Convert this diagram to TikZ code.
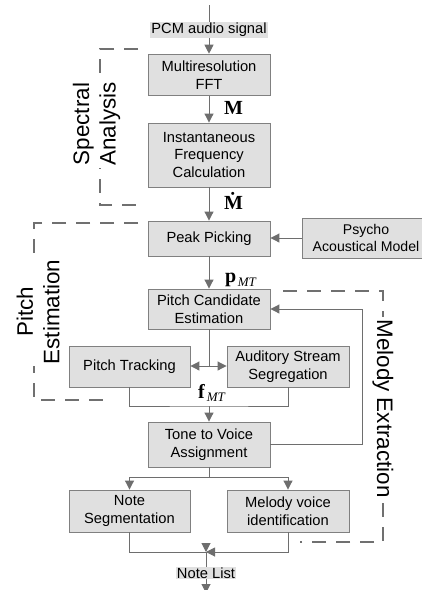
\documentclass[tikz,border=0pt]{standalone}
\usepackage{fontspec}
\setmainfont{Liberation Sans}
\newfontfamily\serifbf{Liberation Serif}
\usetikzlibrary{arrows.meta,calc}
\definecolor{boxfill}{RGB}{224,224,224}
\definecolor{boxline}{RGB}{128,128,128}
\definecolor{wirecol}{RGB}{110,110,110}
\definecolor{dashcol}{RGB}{112,112,112}

\begin{document}
\begin{tikzpicture}[x=1pt,y=-1pt,
  every node/.style={font=\fontsize{14.7}{17.6}\selectfont},
  stage/.style={draw=boxline, fill=boxfill, line width=0.9pt, align=center,
                inner sep=0pt, minimum width=122pt},
  tag/.style={fill=boxfill, inner sep=1.2pt},
  wire/.style={draw=wirecol, line width=1pt},
  arr/.style={wire, -{Triangle[width=9pt,length=9pt]}},
  group/.style={draw=dashcol, line width=2pt, dash pattern=on 14pt off 10pt},
  grouplabel/.style={fill=white, font=\fontsize{22.4}{26.5}\selectfont,
                     align=center, inner sep=2pt},
  sym/.style={font=\serifbf\bfseries\fontsize{20}{22}\selectfont,
              inner sep=0pt, anchor=base west}
]
\path[use as bounding box] (0,0) rectangle (422,590);
\clip (0,0) rectangle (422,590);
\fill[white] (0,0) rectangle (422,590);

% processing stages
\node[tag] (pcm) at (209,30) {PCM audio signal};
\node[stage, minimum height=41.7pt] (fft) at (209,75) {Multiresolution\\FFT};
\node[stage, minimum height=64pt] (ifc) at (209,155) {Instantaneous\\Frequency\\Calculation};
\node[stage, minimum height=35pt] (peak) at (209,238.5) {Peak Picking};
\node[stage, minimum width=127pt, minimum height=40pt,
      font=\fontsize{14.1}{17.6}\selectfont] (psy) at (366,238) {Psycho\\Acoustical Model};
\node[stage, minimum height=40pt] (pce) at (209,309) {Pitch Candidate\\Estimation};
\node[stage, minimum width=121pt, minimum height=41pt] (pt) at (129.5,366.5) {Pitch Tracking};
\node[stage, minimum height=41pt] (ass) at (288,366.5) {Auditory Stream\\Segregation};
\node[stage, minimum height=45pt] (tva) at (209,444.5) {Tone to Voice\\Assignment};
\node[stage, minimum width=121pt, minimum height=42pt] (ns) at (129.5,511) {Note\\Segmentation};
\node[stage, minimum height=42pt] (mvi) at (288,511) {Melody voice\\identification};
\node[tag, inner sep=0.5pt] (nl) at (206,573) {Note List};

% group brackets
\draw[group] (138,49) -- (100,49) -- (100,205) -- (138,205);
\draw[group] (138,223) -- (34,223) -- (34,400) -- (112,400);
\draw[group] (283,291) -- (383,291) -- (383,542) -- (300,542);
\node[grouplabel, rotate=90] (gsa) at (96.5,124) {Spectral\\Analysis};
\node[grouplabel, rotate=90] (gpe) at (38,312) {Pitch\\Estimation};
\node[grouplabel, rotate=-90] (gme) at (383,408.5) {Melody Extraction};

% connectors
\coordinate (src) at (209,5);
\draw[wire] (src) -- (pcm.north);
\draw[arr] (pcm.south) -- (fft.north);
\draw[arr] (fft.south) -- (ifc.north);
\draw[arr] (ifc.south) -- (peak.north);
\draw[arr] (psy.west) -- (psy.west -| peak.east);
\draw[arr] (peak.south) -- (pce.north);

\coordinate (split) at (209,366);
\draw[wire] (pce.south) -- (split);
\draw[arr] (split) -- (split -| pt.east);
\draw[arr] (split) -- (split -| ass.west);

\coordinate (join) at (209,406);
\draw[wire] (pt.south) |- (join) -| (ass.south);
\draw[arr] (join) -- (tva.north);

\draw[arr] (tva.east) -| ([xshift=92pt]pce.east) -- (pce.east);

\coordinate (fork) at (209,477);
\draw[wire] (tva.south) -- (fork);
\draw[arr] (fork) -| (ns.north);
\draw[arr] (fork) -| (mvi.north);

\coordinate (merge) at (206,552);
\draw[wire] (ns.south) |- (merge);
\draw[arr] ([yshift=9pt]merge) -- (merge);
\draw[arr] (mvi.south) |- (merge);
\draw[wire] (merge) -- (nl.north);
\coordinate (out) at (206,593);
\draw[arr] (nl.south) -- (out);

% signal symbols
\node[sym] (mlab) at (224,114) {M};
\node[sym] (mdot) at (224,209) {\.M};
\node[sym] (plab) at (225,282.5) {p\kern1.5pt\raisebox{-3.5pt}{\fontsize{13}{13}\selectfont\mdseries\itshape MT}};
\node[sym] (flab) at (198,398) {f\kern2pt\raisebox{-3pt}{\fontsize{13}{13}\selectfont\mdseries\itshape MT}};
\end{tikzpicture}
\end{document}
